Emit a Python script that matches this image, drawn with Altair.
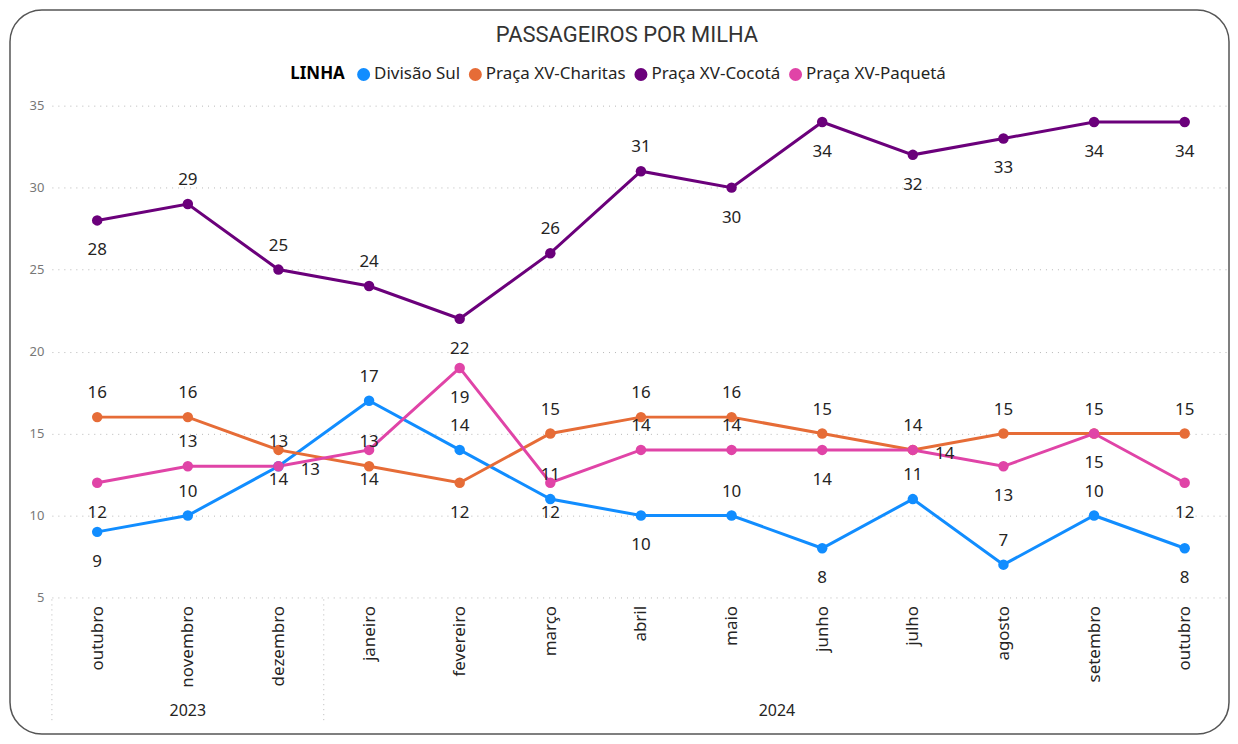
import altair as alt
import pandas as pd

months = ["outubro", "novembro", "dezembro", "janeiro", "fevereiro", "março", "abril",
          "maio", "junho", "julho", "agosto", "setembro", "outubro"]
years = ["2023"] * 3 + ["2024"] * 10
series = ["Divisão Sul", "Praça XV-Charitas", "Praça XV-Cocotá", "Praça XV-Paquetá"]
divisao_sul = [9, 10, 13, 17, 14, 11, 10, 10, 8, 11, 7, 10, 8]
charitas = [16, 16, 14, 13, 12, 15, 16, 16, 15, 14, 15, 15, 15]
cocota = [28, 29, 25, 24, 22, 26, 31, 30, 34, 32, 33, 34, 34]
paqueta = [12, 13, 13, 14, 19, 12, 14, 14, 14, 14, 13, 15, 12]
colors = ["#118DFF", "#E66C37", "#6B007B", "#E044A7"]
# data label side: a = above, b = below, r = right
side_divisao = ["b", "a", "r", "a", "a", "a", "b", "a", "b", "a", "a", "a", "b"]
side_charitas = ["a", "a", "b", "a", "b", "a", "a", "a", "a", "a", "a", "a", "a"]
side_cocota = ["b", "a", "a", "a", "b", "a", "a", "b", "b", "b", "b", "b", "b"]
side_paqueta = ["b", "a", "a", "b", "b", "b", "a", "a", "b", "r", "b", "b", "b"]

keys = [f"{m} {y}" for m, y in zip(months, years)]
rows = []
for name, vals, sides in zip(series, [divisao_sul, charitas, cocota, paqueta],
                             [side_divisao, side_charitas, side_cocota, side_paqueta]):
    for k, v, s in zip(keys, vals, sides):
        rows.append({"key": k, "serie": name, "valor": v, "side": s})
df = pd.DataFrame(rows)

# year spans
yr_rows = []
sep_rows = []
i = 0
for y in dict.fromkeys(years):
    n = years.count(y)
    yr_rows.append({"ano": y, "mid": i + n / 2})
    sep_rows.append({"pos": i})
    i += n
yr_df = pd.DataFrame(yr_rows)
sep_df = pd.DataFrame(sep_rows)

W, H = 1181, 493
FONT = "Segoe UI, Noto Sans, sans-serif"

xenc = alt.X("key:N", sort=keys, title=None,
             axis=alt.Axis(labelExpr="split(datum.label, ' ')[0]", labelAngle=-90,
                           labelFontSize=17, labelColor="#252423", labelFont=FONT,
                           domain=False, ticks=False, grid=False, labelPadding=8))
yenc = alt.Y("valor:Q", title=None,
             scale=alt.Scale(domain=[5, 35], nice=False, zero=False),
             axis=alt.Axis(values=[5, 10, 15, 20, 25, 30, 35], labelColor="#777777",
                           labelFontSize=13, labelFont=FONT, grid=True,
                           gridDash=[1, 5], gridColor="#b8b8b8", domain=False,
                           ticks=False, labelPadding=8))
cenc = alt.Color("serie:N", sort=series,
                 scale=alt.Scale(domain=series, range=colors),
                 legend=alt.Legend(title="LINHA", orient="none", legendX=239, legendY=-40,
                                   direction="horizontal", titleOrient="left",
                                   titleFontWeight="bold", titleFontSize=17,
                                   titleColor="#000000", titleFont=FONT,
                                   labelFontSize=17, labelColor="#252423", labelFont=FONT,
                                   symbolType="circle", symbolSize=170,
                                   symbolStrokeWidth=0, columnPadding=6,
                                   labelOffset=2, titlePadding=10))

base = alt.Chart(df)
lines = base.mark_line(strokeWidth=3).encode(x=xenc, y=yenc, color=cenc)
points = base.mark_point(filled=True, size=110, opacity=1).encode(x=xenc, y=yenc, color=cenc)

def labels(side, dx, dy):
    return base.transform_filter(alt.datum.side == side).mark_text(
        fontSize=17, color="#252423", font=FONT, dx=dx, dy=dy, baseline="middle"
    ).encode(x=xenc, y=yenc, text="valor:Q")

main = alt.layer(lines, points, labels("a", 0, -24), labels("b", 0, 30), labels("r", 32, 4))

xq = alt.X("pos:Q", scale=alt.Scale(domain=[0, len(keys)], nice=False, zero=False), axis=None)
seps = alt.Chart(sep_df).mark_rule(strokeDash=[1, 4], color="#b8b8b8", strokeWidth=1).encode(
    x=xq, y=alt.value(H + 2), y2=alt.value(H + 127))
year_text = alt.Chart(yr_df).mark_text(fontSize=16, color="#252423", font=FONT,
                                       baseline="middle").encode(
    x=alt.X("mid:Q", scale=alt.Scale(domain=[0, len(keys)], nice=False, zero=False), axis=None),
    y=alt.value(H + 114), text="ano:N")

frame = alt.Chart(pd.DataFrame({"a": [0]})).mark_rect(
    fill="transparent", stroke="#555555", strokeWidth=1.5, cornerRadius=32
).encode(x=alt.value(-42), x2=alt.value(W - 1), y=alt.value(-96), y2=alt.value(H + 137))

chart = alt.layer(main, seps, year_text, frame).resolve_scale(x="independent").properties(
    width=W, height=H,
    title=alt.TitleParams("PASSAGEIROS POR MILHA", anchor="middle", fontSize=22,
                          font="Roboto", fontWeight="normal", color="#333333", offset=-38,
                          dx=-14),
    autosize=alt.AutoSizeParams(type="none"),
    padding={"left": 44, "top": 97, "right": 0, "bottom": 138},
).configure_view(stroke=None)

chart.save("out.html", embed_options={"renderer": "svg", "actions": False})
